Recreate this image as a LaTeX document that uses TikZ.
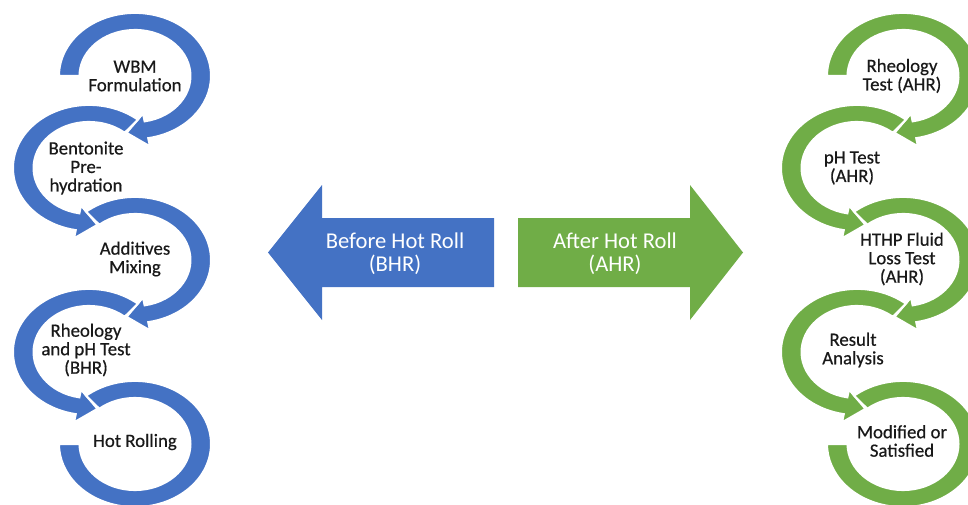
\documentclass[tikz,border=0pt]{standalone}
\usepackage{fontspec}
\setmainfont{Carlito}
\newfontfamily\stepfont{Carlito}[FakeBold=0.5]
\definecolor{oblue}{HTML}{4472C4}
\definecolor{ogreen}{HTML}{70AD47}
\tikzset{
  ringfill/.style={fill=#1, draw=white, line width=2pt, line join=miter},
  steptext/.style={font=\stepfont\fontsize{18.8}{18.5}\selectfont, align=center, text=black!90, inner sep=0pt},
  arrowtext/.style={font=\fontsize{22.6}{23}\selectfont, align=center, text=white, inner sep=0pt},
}
% clockwise ring with head: #1 centre, #2 start angle, #3 body end angle, #4 colour
\newcommand{\ringcw}[4]{%
  \begin{scope}[shift={#1}, yscale=0.83]
    \path[ringfill=#4] (#2:76) arc[start angle=#2, end angle=#3, radius=76]
      -- (#3:86) -- ({#3-17}:69) -- (#3:46) -- (#3:55.5)
      arc[start angle=#3, end angle=#2, radius=55.5] -- cycle;
  \end{scope}}
% counter-clockwise ring with head
\newcommand{\ringccw}[4]{%
  \begin{scope}[shift={#1}, yscale=0.83]
    \path[ringfill=#4] (#2:76) arc[start angle=#2, end angle=#3, radius=76]
      -- (#3:86) -- ({#3+17}:69) -- (#3:46) -- (#3:55.5)
      arc[start angle=#3, end angle=#2, radius=55.5] -- cycle;
  \end{scope}}
% last ring, no head
\newcommand{\ringend}[2]{%
  \begin{scope}[shift={#1}, yscale=0.83]
    \path[ringfill=#2] (130:76) arc[start angle=130, end angle=-180, radius=76]
      -- (-180:55.5) arc[start angle=-180, end angle=130, radius=55.5] -- cycle;
  \end{scope}}
\begin{document}
\begin{tikzpicture}[x=1pt,y=1pt]
\useasboundingbox (0,0) rectangle (968,-505);
\clip (0,0) rectangle (968,-505);

% ---------- left column (blue) ----------
\ringcw{(135,-76)}{180}{-80}{oblue}
\ringccw{(89,-168)}{50}{260}{oblue}
\ringcw{(135,-260)}{130}{-80}{oblue}
\ringccw{(89,-352)}{50}{260}{oblue}
\ringend{(135,-444)}{oblue}

\node[steptext] (l1) at (135,-76) {WBM\\Formulation};
\node[steptext] (l2) at (86,-168) {Bentonite\\Pre-\\hydration};
\node[steptext] (l3) at (135,-259) {Additives\\Mixing};
\node[steptext] (l4) at (86,-350) {Rheology\\and pH Test\\(BHR)};
\node[steptext] (l5) at (135,-442) {Hot Rolling};

% ---------- right column (green) ----------
\ringcw{(903,-76)}{180}{-80}{ogreen}
\ringccw{(857,-168)}{50}{260}{ogreen}
\ringcw{(903,-260)}{130}{-80}{ogreen}
\ringccw{(857,-352)}{50}{260}{ogreen}
\ringend{(903,-444)}{ogreen}

\node[steptext] (r1) at (902,-76) {Rheology\\Test (AHR)};
\node[steptext] (r2) at (852,-168) {pH Test\\(AHR)};
\node[steptext] (r3) at (902,-259) {HTHP Fluid\\Loss Test\\(AHR)};
\node[steptext] (r4) at (853,-350) {Result\\Analysis};
\node[steptext] (r5) at (902,-441) {Modified or\\Satisfied};

% ---------- central block arrows ----------
\fill[oblue] (494,-218) -- (322,-218) -- (322,-185) -- (268,-252.5)
  -- (322,-320) -- (322,-287) -- (494,-287) -- cycle;
\fill[ogreen] (518,-218) -- (690,-218) -- (690,-185) -- (743,-252.5)
  -- (690,-320) -- (690,-287) -- (518,-287) -- cycle;
\node[arrowtext] (bhr) at (395,-254) {Before Hot Roll\\(BHR)};
\node[arrowtext] (ahr) at (615,-254) {After Hot Roll\\(AHR)};
\end{tikzpicture}
\end{document}
